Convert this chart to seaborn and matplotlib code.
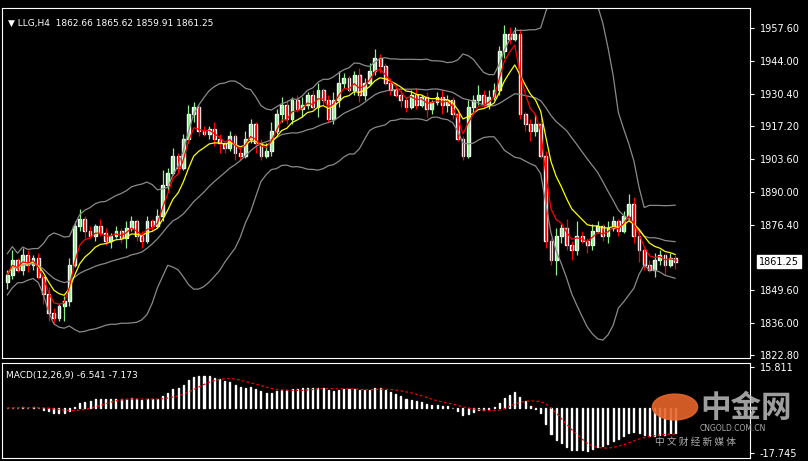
import numpy as np
import pandas as pd
import matplotlib
matplotlib.use("Agg")
import matplotlib.pyplot as plt
import seaborn as sns

# closes, left to right
closes = [1856, 1862, 1858, 1864, 1860, 1863, 1855, 1848, 1840, 1838, 1843,
          1845, 1860, 1876, 1879, 1874, 1872, 1876, 1873, 1870, 1872, 1874, 1871, 1875, 1878, 1872, 1870,
          1878, 1876, 1880, 1893, 1898, 1905, 1900, 1912, 1922, 1925,
          1915, 1914, 1916, 1912, 1910, 1908, 1913, 1906, 1905,
          1912, 1918, 1910, 1905, 1907, 1915, 1922, 1926, 1920, 1928, 1924,
          1926, 1930, 1925, 1932, 1928, 1920, 1928, 1935, 1937, 1932, 1938, 1930, 1935,
          1940, 1945, 1942, 1935, 1932, 1930, 1928, 1925, 1930, 1926, 1929, 1924, 1927, 1929, 1926,
          1928, 1922, 1912, 1905, 1925, 1928, 1930, 1926, 1929, 1932,
          1948, 1955, 1953, 1955, 1922, 1918, 1915, 1918, 1905, 1870,
          1862, 1872, 1875, 1868, 1866, 1872, 1870, 1868, 1874, 1876, 1872, 1875, 1878, 1874,
          1880, 1885, 1872, 1866, 1860, 1858, 1862, 1864, 1860, 1863, 1861.25]
opens = [1853] + closes[:-1]
wick_up = [2, 4, 1, 3, 2, 1, 2, 1, 3, 2, 1, 2, 3, 2, 4, 1, 2, 1, 3, 2, 1, 2, 1, 3, 2, 1, 2,
           2, 1, 3, 6, 2, 3, 1, 2, 4, 2, 1, 2, 1, 3, 2, 1, 2, 1, 2, 3, 2, 1, 2, 3, 4, 2, 3, 2,
           1, 2, 3, 1, 2, 3, 1, 2, 3, 5, 2, 1, 2, 3, 2, 3, 4, 2, 1, 2, 3, 2, 1, 2, 3, 1, 2,
           1, 2, 3, 2, 1, 2, 1, 3, 2, 4, 2, 3, 3, 2, 4, 3, 3, 2, 1, 2, 4, 3, 2, 1, 3, 2, 4, 2,
           6, 2, 1, 3, 2, 1, 3, 2, 1, 2, 4, 3, 2, 1, 2, 3, 2, 1, 2, 1, 2, 3, 1, 2]
wick_dn = [3, 2, 1, 2, 3, 2, 1, 4, 3, 2, 1, 6, 2, 1, 2, 3, 1, 2, 1, 2, 3, 1, 2, 4, 1, 2, 3,
           1, 2, 1, 2, 3, 1, 2, 1, 2, 3, 2, 1, 2, 3, 4, 2, 1, 3, 2, 1, 2, 4, 2, 1, 2, 1, 3, 2,
           2, 1, 3, 2, 1, 4, 2, 1, 2, 3, 2, 1, 2, 3, 2, 1, 2, 3, 1, 2, 1, 3, 2, 1, 2, 1, 3,
           2, 1, 4, 3, 2, 1, 2, 1, 3, 2, 1, 2, 1, 2, 3, 2, 1, 2, 3, 4, 2, 1, 3, 2, 6, 3, 2, 4,
           2, 1, 3, 2, 1, 2, 3, 1, 2, 1, 2, 3, 5, 2, 1, 3, 2, 4, 1, 3, 2, 2, 1, 2]
price_ticks = [1957.60, 1944.00, 1930.40, 1917.20, 1903.60, 1890.00, 1876.40, 1849.60, 1836.00, 1822.80]
macd_ticks = [15.811, -17.745]

n = len(closes)
df = pd.DataFrame({"i": np.arange(n), "open": opens, "close": closes})
df["high"] = df[["open", "close"]].max(axis=1) + wick_up[:n]
df["low"] = df[["open", "close"]].min(axis=1) - wick_dn[:n]
c = df["close"]
df["ma_fast"] = c.ewm(span=4).mean()
df["ma_slow"] = c.ewm(span=9).mean()
mid = c.rolling(20, min_periods=1).mean()
sd = c.rolling(20, min_periods=2).std().bfill()
df["bb_up"] = mid + 2 * sd
df["bb_lo"] = mid - 2 * sd
df["bb_mid"] = mid
macd = c.ewm(span=12).mean() - c.ewm(span=26).mean()
df["macd"] = macd
df["signal"] = macd.rolling(9, min_periods=1).mean()

sns.set_style("dark", {"axes.facecolor": "black", "figure.facecolor": "black"})
fig = plt.figure(figsize=(8.08, 4.61), dpi=100)
W, H = 808, 461
ax = fig.add_axes([2 / W, 1 - 358 / H, 748 / W, 350 / H])
ax2 = fig.add_axes([2 / W, 1 - 458 / H, 748 / W, 95 / H])

up = df["close"] >= df["open"]
ax.vlines(df["i"], df["low"], df["high"], colors=np.where(up, "#90ee90", "#ff0000"), lw=0.9)
ax.bar(df["i"], (df["close"] - df["open"]).abs().clip(lower=0.4), bottom=df[["open", "close"]].min(axis=1),
       width=0.55, color=np.where(up, "#90ee90", "#ff0000"))
for col, colr in [("bb_up", "#8a8a8a"), ("bb_lo", "#8a8a8a"), ("bb_mid", "#8a8a8a"),
                  ("ma_slow", "#ffff00"), ("ma_fast", "#ff0000")]:
    sns.lineplot(data=df, x="i", y=col, ax=ax, color=colr, lw=0.9)

xlim = (-1, n / (678 / 748))
ax.set_xlim(*xlim)
ax.set_ylim(1821.6, 1965.8)
ax.set_xticks([])
ax.set_xlabel("")
ax.set_ylabel("")
ax.yaxis.tick_right()
ax.set_yticks(price_ticks)
ax.set_yticklabels([f"{t:.2f}" for t in price_ticks], color="white", fontsize=7)
ax.tick_params(axis="y", colors="white", length=3, pad=4)
ax.text(0.008, 0.97, "▼ LLG,H4  1862.66 1865.62 1859.91 1861.25", transform=ax.transAxes,
        color="white", fontsize=6.5, va="top")
ax.text(1.012, (1861.25 - 1821.6) / (1965.8 - 1821.6), "1861.25", transform=ax.transAxes,
        color="black", fontsize=7, va="center",
        bbox=dict(facecolor="white", edgecolor="white", pad=1.2))

ax2.bar(df["i"], df["macd"], width=0.2, color="white")
ax2.plot(df["i"], df["signal"], color="#ff0000", lw=0.9, ls=(0, (2, 2)))
ax2.set_xlim(*xlim)
ax2.set_ylim(-19.5, 17.5)
ax2.set_xticks([])
ax2.yaxis.tick_right()
ax2.set_yticks(macd_ticks)
ax2.set_yticklabels([str(t) for t in macd_ticks], color="white", fontsize=7)
ax2.tick_params(axis="y", colors="white", length=3, pad=4)
ax2.text(0.005, 0.92, "MACD(12,26,9) -6.541 -7.173", transform=ax2.transAxes,
         color="white", fontsize=6.5, va="top")

for a in (ax, ax2):
    for s in a.spines.values():
        s.set_visible(True)
        s.set_color("white")
        s.set_linewidth(0.8)

# watermark
fig.patches.append(plt.Circle((675 / W, 1 - 407 / H), 0.028, transform=fig.transFigure,
                              color="#e8652a", alpha=0.9))
fig.text(700 / W, 1 - 408 / H, "中金网", family=["Noto Sans CJK SC", "DejaVu Sans"],
         fontsize=22, color="#bbbbbb", alpha=0.85, va="center", fontweight="bold")
fig.text(700 / W, 1 - 431 / H, "CNGOLD.COM.CN", fontsize=5.5, color="#aaaaaa")
fig.text(655 / W, 1 - 442 / H, "中 文 财 经 新 媒 体", family=["Noto Sans CJK SC", "DejaVu Sans"],
         fontsize=7, color="#aaaaaa", va="center")

fig.savefig("out.png", dpi=100, facecolor="black")
